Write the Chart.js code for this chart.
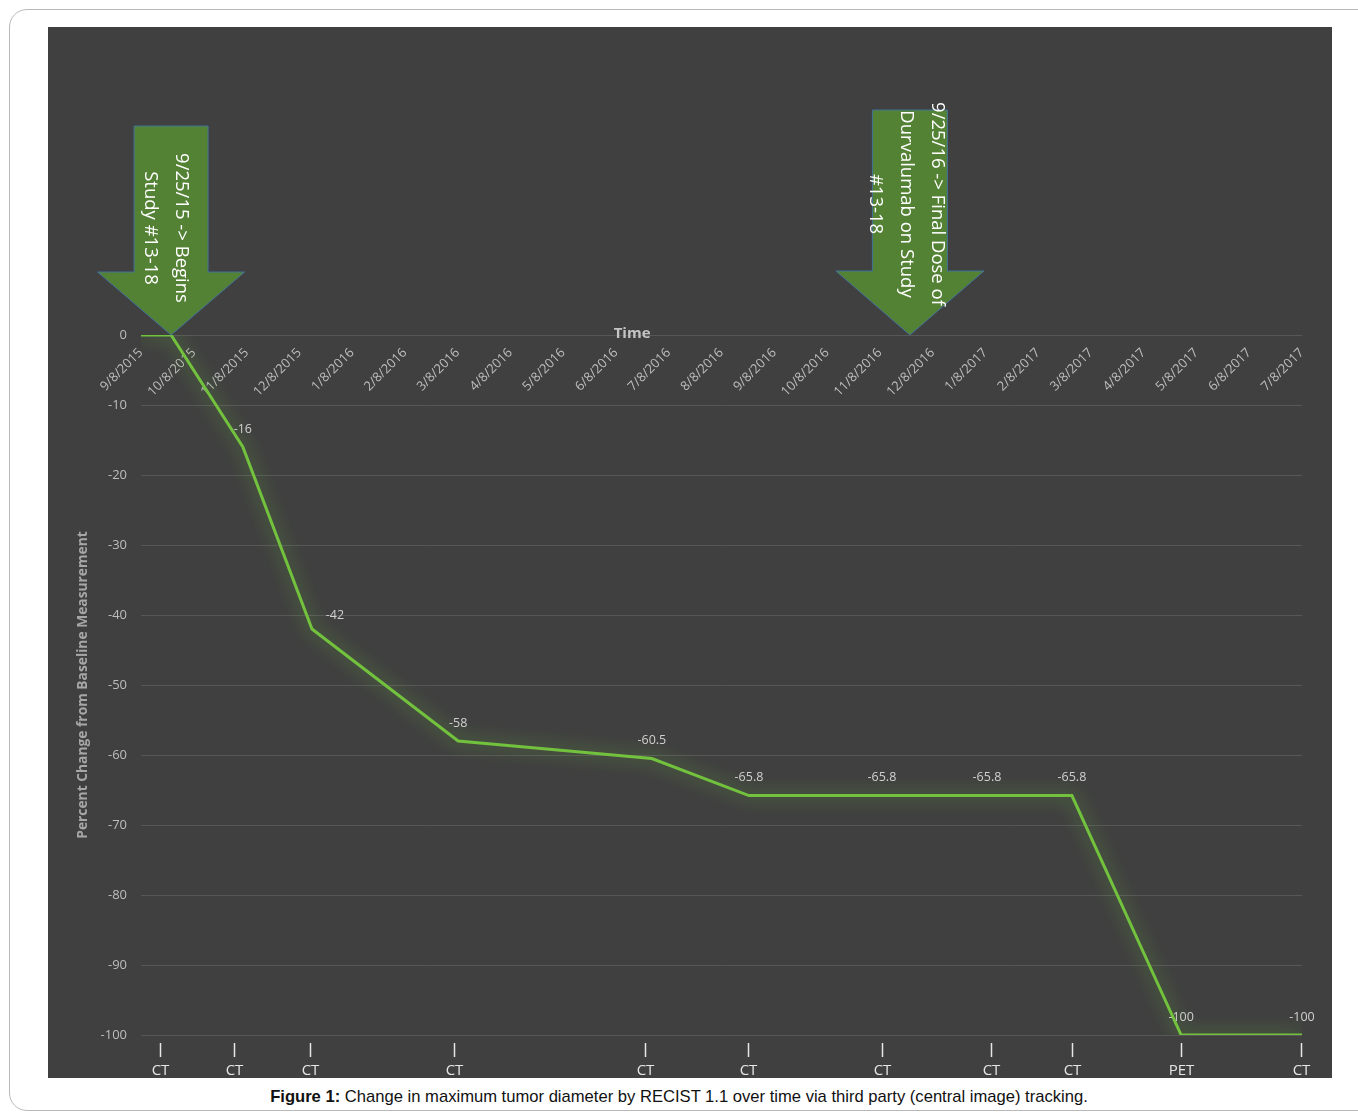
<!DOCTYPE html>
<html>
<head>
<meta charset="utf-8">
<script src="https://cdn.jsdelivr.net/npm/chart.js@4.4.1/dist/chart.umd.min.js"></script>
<style>
    html, body { margin: 0; padding: 0; background: #fff; }
    body { width: 1358px; height: 1118px; position: relative; overflow: hidden; }
    .card {
        position: absolute; left: 9px; top: 9px; width: 1400px; height: 1102px;
        border: 1px solid #b8b8b8; border-radius: 18px; box-sizing: border-box;
    }
    .panel { position: absolute; left: 48px; top: 27px; width: 1284px; height: 1051px; background: #404040; }
    .caption {
        position: absolute; left: 0; top: 1087px; width: 1358px; text-align: center;
        font: 16.6px "Liberation Sans", Arial, sans-serif; color: #111;
    }
</style>
</head>
<body>
<div class="card"></div>
<div class="panel"><canvas id="tumorChart" width="1284" height="1051"></canvas></div>
<div class="caption"><b>Figure 1:</b> Change in maximum tumor diameter by RECIST 1.1 over time via third party (central image) tracking.</div>

<script>
// ── Data ──────────────────────────────────────────────────────────────────────

const tickLabels = [
    '9/8/2015', '10/8/2015', '11/8/2015', '12/8/2015', '1/8/2016', '2/8/2016', '3/8/2016',
    '4/8/2016', '5/8/2016', '6/8/2016', '7/8/2016', '8/8/2016', '9/8/2016', '10/8/2016',
    '11/8/2016', '12/8/2016', '1/8/2017', '2/8/2017', '3/8/2017', '4/8/2017', '5/8/2017',
    '6/8/2017', '7/8/2017',
];

// months after 9/8/2015
const pointMonths = [0, 0.57, 1.93, 3.24, 6.01, 9.68, 11.52, 14.04, 16.03, 17.64, 19.71, 22.0];
const pctChange = [0, 0, -16, -42, -58, -60.5, -65.8, -65.8, -65.8, -65.8, -100, -100];

const scanMonths = [0.36, 1.76, 3.2, 5.93, 9.55, 11.5, 14.04, 16.11, 17.64, 19.71, 21.98];
const scanTypes = ['CT', 'CT', 'CT', 'CT', 'CT', 'CT', 'CT', 'CT', 'CT', 'PET', 'CT'];

const arrowMonths = [0.57, 14.57];
const arrowTexts = [
    ['9/25/15 -> Begins', 'Study #13-18'],
    ['9/25/16 -> Final Dose of', 'Durvalumab on Study', '#13-18'],
];

// ── Plugins ───────────────────────────────────────────────────────────────────

const FONT = '"Open Sans", "DejaVu Sans", sans-serif';
const lineGreen = '#72c23e';

// soft green glow under the line
const glowPlugin = {
    id: 'glow',
    beforeDatasetDraw(chart) {
        const { ctx } = chart;
        ctx.save();
        ctx.shadowColor = 'rgba(110, 200, 60, 0.75)';
        ctx.shadowBlur = 18;
    },
    afterDatasetDraw(chart) {
        chart.ctx.restore();
    },
};

const valueLabelPlugin = {
    id: 'valueLabels',
    afterDatasetsDraw(chart) {
        const { ctx } = chart;
        const meta = chart.getDatasetMeta(0);
        ctx.save();
        ctx.font = `12.5px ${FONT}`;
        ctx.fillStyle = '#d0d0d0';
        ctx.textAlign = 'center';
        ctx.textBaseline = 'middle';
        meta.data.forEach((pt, i) => {
            const v = pctChange[i];
            if (v === 0) return;
            const dx = i === 3 ? 23 : 0; // Excel nudged this one sideways
            const dy = i === 3 ? -14 : -18;
            ctx.fillText(String(v), pt.x + dx, pt.y + dy);
        });
        ctx.restore();
    },
};

const scanPlugin = {
    id: 'scans',
    afterDraw(chart) {
        const { ctx, chartArea } = chart;
        const xs = chart.scales.x;
        ctx.save();
        ctx.strokeStyle = '#e6e6e6';
        ctx.fillStyle = '#e6e6e6';
        ctx.lineWidth = 1.5;
        ctx.font = `15px ${FONT}`;
        ctx.textAlign = 'center';
        ctx.textBaseline = 'middle';
        scanMonths.forEach((m, i) => {
            const x = Math.round(xs.getPixelForValue(m)) + 0.5;
            ctx.beginPath();
            ctx.moveTo(x, chartArea.bottom + 8);
            ctx.lineTo(x, chartArea.bottom + 22);
            ctx.stroke();
            ctx.fillText(scanTypes[i], x, chartArea.bottom + 36);
        });
        ctx.restore();
    },
};

const arrowShapes = [
    { shaft: 37, wing: 73.5, head: 63, length: 209, textY: 107, textX: -5, size: 18.5 },
    { shaft: 37.5, wing: 74, head: 64, length: 225, textY: 131, textX: -4, size: 18.5 },
];

const arrowPlugin = {
    id: 'arrows',
    afterDraw(chart) {
        const { ctx } = chart;
        const xs = chart.scales.x;
        const tipY = chart.scales.y.getPixelForValue(0);
        ctx.save();
        arrowMonths.forEach((m, i) => {
            const s = arrowShapes[i];
            const tx = xs.getPixelForValue(m);
            ctx.beginPath();
            ctx.moveTo(tx, tipY);
            ctx.lineTo(tx - s.wing, tipY - s.head);
            ctx.lineTo(tx - s.shaft, tipY - s.head);
            ctx.lineTo(tx - s.shaft, tipY - s.length);
            ctx.lineTo(tx + s.shaft, tipY - s.length);
            ctx.lineTo(tx + s.shaft, tipY - s.head);
            ctx.lineTo(tx + s.wing, tipY - s.head);
            ctx.closePath();
            ctx.fillStyle = '#548235';
            ctx.fill();
            ctx.strokeStyle = '#41719c';
            ctx.lineWidth = 1;
            ctx.stroke();

            // text reads top-to-bottom
            const lines = arrowTexts[i];
            const lh = 31;
            ctx.save();
            ctx.translate(tx + s.textX, tipY - s.textY);
            ctx.rotate(Math.PI / 2);
            ctx.fillStyle = '#ffffff';
            ctx.font = `${s.size}px ${FONT}`;
            ctx.textAlign = 'center';
            ctx.textBaseline = 'middle';
            lines.forEach((t, j) => {
                ctx.fillText(t, 0, (j - (lines.length - 1) / 2) * lh);
            });
            ctx.restore();
        });

        // axis title sitting on the zero line
        ctx.font = `bold 15px ${FONT}`;
        ctx.fillStyle = '#c4c4c4';
        ctx.textAlign = 'center';
        ctx.textBaseline = 'middle';
        const ca = chart.chartArea;
        ctx.fillText('Time', ca.left + (ca.right - ca.left) * 0.423, tipY - 1);
        ctx.restore();
    },
};

// ── Chart ─────────────────────────────────────────────────────────────────────

new Chart(document.getElementById('tumorChart'), {
    type: 'line',
    data: {
        datasets: [{
            data: pointMonths.map((m, i) => ({ x: m, y: pctChange[i] })),
            borderColor: lineGreen,
            borderWidth: 3,
            pointRadius: 0,
            tension: 0,
            fill: false,
        }],
    },
    options: {
        responsive: false,
        animation: false,
        layout: { padding: { top: 308, bottom: 43, right: 30, left: 27 } },
        plugins: {
            legend: { display: false },
            tooltip: { enabled: false },
        },
        scales: {
            x: {
                type: 'linear',
                position: { y: 0 },
                min: 0,
                max: 22,
                grid: { display: false, drawTicks: false },
                border: { display: false },
                ticks: {
                    stepSize: 1,
                    autoSkip: false,
                    minRotation: 45,
                    maxRotation: 45,
                    padding: 10,
                    color: '#bdbdbd',
                    font: { family: FONT, size: 13 },
                    callback: (v) => tickLabels[Math.round(v)] ?? '',
                },
                // rotated labels overhang on the left, don't let them push the plot
                afterFit(scale) {
                    scale.paddingLeft = 0;
                    scale.paddingRight = 0;
                },
            },
            y: {
                min: -100,
                max: 0,
                grid: { color: '#575757', lineWidth: 1, drawTicks: false },
                border: { display: false },
                ticks: {
                    stepSize: 10,
                    padding: 14,
                    color: '#bdbdbd',
                    font: { family: FONT, size: 13 },
                },
                title: {
                    display: true,
                    text: 'Percent Change from Baseline Measurement',
                    color: '#a6a6a6',
                    font: { family: FONT, size: 13.8, weight: 'bold' },
                    padding: { top: 0, bottom: 9 },
                },
                afterFit(scale) {
                    scale.width = 66;
                },
            },
        },
    },
    plugins: [glowPlugin, valueLabelPlugin, scanPlugin, arrowPlugin],
});
</script>
</body>
</html>
